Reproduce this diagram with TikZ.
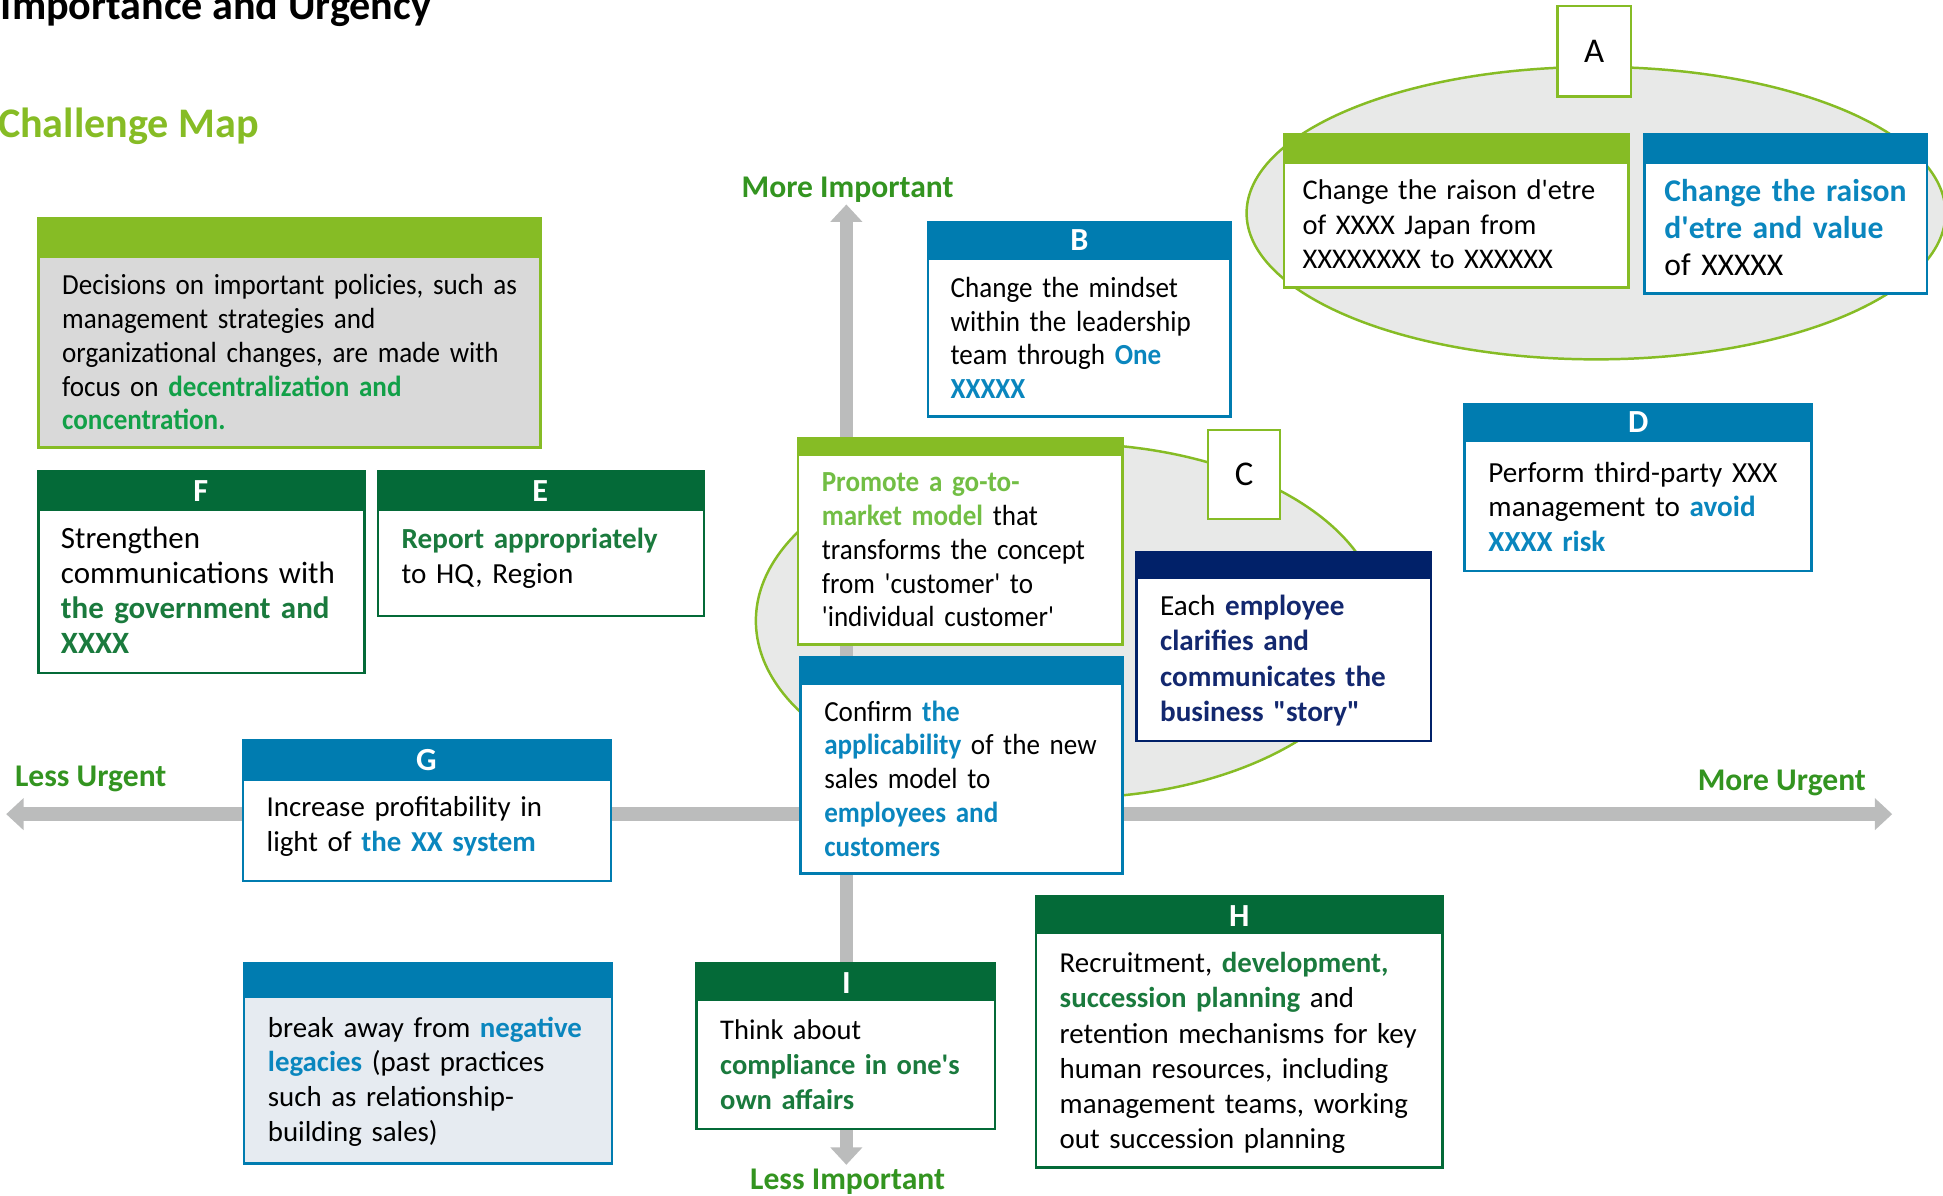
\documentclass[tikz,border=0pt]{standalone}
\usepackage{fontspec}
\setmainfont{Carlito}[Ligatures=TeXOff]
\newfontfamily\narrowfont{Carlito}[Ligatures=TeXOff, FakeStretch=0.93]
\usetikzlibrary{arrows.meta}

\definecolor{lightgreen}{HTML}{86BC25}
\definecolor{darkgreen}{HTML}{046A38}
\definecolor{midblue}{HTML}{007CB0}
\definecolor{navy}{HTML}{012169}
\definecolor{axisgray}{HTML}{BBBCBC}
\definecolor{ovalgray}{HTML}{E8E9E8}
\definecolor{panelgray}{HTML}{D9D9D9}
\definecolor{paleblue}{HTML}{E6EBF1}
\definecolor{labelgreen}{HTML}{339420}
\definecolor{brightgreen}{HTML}{12A048}
\definecolor{textgreen}{HTML}{1A7A3D}
\definecolor{textblue}{HTML}{0A86BE}
\definecolor{textlime}{HTML}{72BE44}
\definecolor{textnavy}{HTML}{13286F}

\newcommand{\kwblue}[1]{{\bfseries\color{textblue}#1}}
\newcommand{\kwgreen}[1]{{\bfseries\color{textgreen}#1}}
\newcommand{\kwbright}[1]{{\bfseries\color{brightgreen}#1}}
\newcommand{\kwlime}[1]{{\bfseries\color{textlime}#1}}
\newcommand{\kwnavy}[1]{{\bfseries\color{textnavy}#1}}

\tikzset{
  card/.style={line width=2pt, draw=#1, fill=white},
  cardhead/.style={line width=2pt, draw=#1, fill=#1},
  cardtext/.style={anchor=base west, inner sep=0pt, align=left, text width=#1,
    font=\fontsize{23.5}{27.6}\selectfont},
  narrowtext/.style={font=\narrowfont\fontsize{23.5}{27.2}\selectfont},
  lettertag/.style={inner sep=0pt, text=white, font=\fontsize{26}{26}\selectfont\bfseries},
  ovaltag/.style={inner sep=0pt, font=\fontsize{28}{28}\selectfont},
  axislabel/.style={inner sep=0pt, text=labelgreen, font=\fontsize{25.5}{26}\selectfont\bfseries},
  axisarrow/.style={axisgray, line width=11pt,
    {Triangle[length=14pt,width=25pt]}-{Triangle[length=14pt,width=25pt]}},
}

\begin{document}
\begin{tikzpicture}[x=1pt,y=-1pt]
\useasboundingbox (0,0) rectangle (1568,965);

% headings
\node[anchor=base east, inner sep=0pt, font=\fontsize{34}{40}\selectfont\bfseries] (title) at (348,16) {Importance and Urgency};
\node[anchor=base east, inner sep=0pt, text=lightgreen, font=\fontsize{34}{40}\selectfont\bfseries] (mapTitle) at (209,111) {Challenge Map};

% ovals
\filldraw[line width=2pt, fill=ovalgray, draw=lightgreen] (1288,172) ellipse [x radius=282pt, y radius=118pt];
\filldraw[line width=2pt, fill=ovalgray, draw=lightgreen] (862,501) ellipse [x radius=252pt, y radius=143pt];

% axes
\coordinate (impHigh) at (683,165);
\coordinate (impLow) at (683,940);
\coordinate (urgLow) at (5,657);
\coordinate (urgHigh) at (1527,657);
\draw[axisarrow] (impLow) -- (impHigh);
\draw[axisarrow] (urgLow) -- (urgHigh);

\node[axislabel, anchor=base] (moreImp) at (684,159) {More Important};
\node[axislabel, anchor=base] (lessImp) at (684,960) {Less Important};
\node[axislabel, anchor=base west] (lessUrg) at (12,635) {Less Urgent};
\node[axislabel, anchor=base east] (moreUrg) at (1506,638) {More Urgent};

% policy panel
\filldraw[card=lightgreen, fill=panelgray] (31,176) rectangle (436,361);
\filldraw[cardhead=lightgreen] (31,176) rectangle (436,207);
\node[cardtext=420pt, narrowtext] (policyText) at (50,238) {Decisions on important policies, such as\\management strategies and\\organizational changes, are made with\\focus on \kwbright{decentralization and}\\\kwbright{concentration.}};

% A
\filldraw[line width=2pt, fill=white, draw=lightgreen] (1257,5) rectangle (1316,78);
\node[ovaltag] (aTag) at (1286.5,41.5) {A};
\filldraw[card=lightgreen] (1036,108) rectangle (1314,232);
\filldraw[cardhead=lightgreen] (1036,108) rectangle (1314,131);
\node[cardtext=270pt, font=\fontsize{23}{28}\selectfont] (aText) at (1051,161) {Change the raison d'etre\\of XXXX Japan from\\XXXXXXXX to XXXXXX};
\filldraw[card=midblue] (1327,108) rectangle (1555,237);
\filldraw[cardhead=midblue] (1327,108) rectangle (1555,131);
\node[cardtext=220pt, font=\fontsize{25.5}{29.5}\selectfont] (aValue) at (1343,163) {\kwblue{Change the raison}\\\kwblue{d'etre and value}\\of XXXXX};

% B
\filldraw[card=midblue] (749,179) rectangle (993,336);
\filldraw[cardhead=midblue] (749,179) rectangle (993,209);
\node[lettertag] (bTag) at (871,194) {B};
\node[cardtext=240pt, narrowtext] (bText) at (767,240) {Change the mindset\\within the leadership\\team through \kwblue{One}\\\kwblue{XXXXX}};

% D
\filldraw[card=midblue] (1182,326) rectangle (1462,461);
\filldraw[cardhead=midblue] (1182,326) rectangle (1462,356);
\node[lettertag] (dTag) at (1322,341) {D};
\node[cardtext=270pt, font=\fontsize{23.5}{28}\selectfont] (dText) at (1201,389) {Perform third-party XXX\\management to \kwblue{avoid}\\\kwblue{XXXX risk}};

% C
\filldraw[line width=2pt, fill=white, draw=lightgreen] (975,347) rectangle (1033,419);
\node[ovaltag] (cTag) at (1004,383) {C};
\filldraw[card=lightgreen] (644,354) rectangle (906,520);
\filldraw[cardhead=lightgreen] (644,354) rectangle (906,367);
\node[cardtext=250pt, narrowtext] (cModel) at (663,397) {\kwlime{Promote a go-to-}\\\kwlime{market model} that\\transforms the concept\\from 'customer' to\\'individual customer'};
\filldraw[card=midblue] (646,530) rectangle (906,705);
\filldraw[cardhead=midblue] (646,530) rectangle (906,552);
\node[cardtext=250pt, narrowtext] (cSales) at (665,582) {Confirm \kwblue{the}\\\kwblue{applicability} of the new\\sales model to\\\kwblue{employees and}\\\kwblue{customers}};
\filldraw[card=navy] (917,446) rectangle (1155,598);
\filldraw[cardhead=navy] (917,446) rectangle (1155,466);
\node[cardtext=230pt, font=\fontsize{23.5}{28.3}\selectfont] (cStory) at (936,497) {Each \kwnavy{employee}\\\kwnavy{clarifies and}\\\kwnavy{communicates the}\\\kwnavy{business "story"}};

% F and E
\filldraw[card=darkgreen] (31,380) rectangle (294,543);
\filldraw[cardhead=darkgreen] (31,380) rectangle (294,411);
\node[lettertag] (fTag) at (162,396) {F};
\node[cardtext=250pt, font=\fontsize{25}{28}\selectfont] (fText) at (49,443) {Strengthen\\communications with\\\kwgreen{the government and}\\\kwgreen{XXXX}};
\filldraw[card=darkgreen] (305,380) rectangle (568,497);
\filldraw[cardhead=darkgreen] (305,380) rectangle (568,411);
\node[lettertag] (eTag) at (436,396) {E};
\node[cardtext=250pt, font=\fontsize{23.5}{28}\selectfont] (eText) at (324,443) {\kwgreen{Report appropriately}\\to HQ, Region};

% G and legacies
\filldraw[card=midblue] (196,597) rectangle (493,711);
\filldraw[cardhead=midblue] (196,597) rectangle (493,629);
\node[lettertag] (gTag) at (344,613) {G};
\node[cardtext=280pt, font=\fontsize{23.3}{28}\selectfont] (gText) at (215,659) {Increase profitability in\\light of \kwblue{the XX system}};
\filldraw[card=midblue, fill=paleblue] (197,777) rectangle (494,939);
\filldraw[cardhead=midblue] (197,777) rectangle (494,804);
\node[cardtext=280pt, font=\fontsize{23.3}{28}\selectfont] (legacyText) at (216,837) {break away from \kwblue{negative}\\\kwblue{legacies} (past practices\\such as relationship-\\building sales)};

% I and H
\filldraw[card=darkgreen] (562,777) rectangle (803,911);
\filldraw[cardhead=darkgreen] (562,777) rectangle (803,807);
\node[lettertag] (iTag) at (683,793) {I};
\node[cardtext=230pt, font=\fontsize{23}{28}\selectfont] (iText) at (581,839) {Think about\\\kwgreen{compliance in one's}\\\kwgreen{own affairs}};
\filldraw[card=darkgreen] (836,723) rectangle (1164,942);
\filldraw[cardhead=darkgreen] (836,723) rectangle (1164,753);
\node[lettertag] (hTag) at (1000,739) {H};
\node[cardtext=310pt, font=\fontsize{23.3}{28.4}\selectfont] (hText) at (855,785) {Recruitment, \kwgreen{development,}\\\kwgreen{succession planning} and\\retention mechanisms for key\\human resources, including\\management teams, working\\out succession planning};
\end{tikzpicture}
\end{document}
